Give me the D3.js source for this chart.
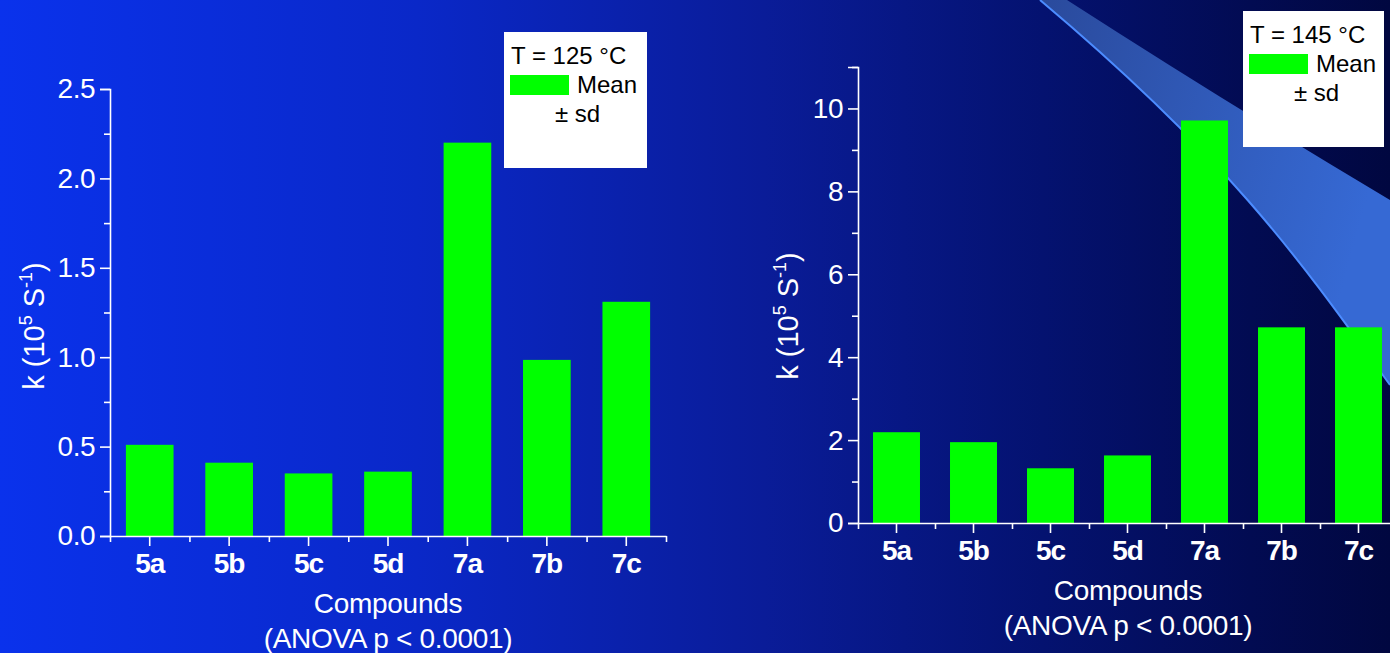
<!DOCTYPE html>
<html><head><meta charset="utf-8">
<script src="https://cdn.jsdelivr.net/npm/d3@7"></script>
<style>
html,body{margin:0;padding:0;overflow:hidden;background:#061a9a;}
svg{display:block;font-family:"Liberation Sans",Arial,sans-serif;}
</style></head>
<body>
<svg id="c" width="1390" height="653"></svg>
<script>
// ---- data ----
const categories = ["5a","5b","5c","5d","7a","7b","7c"];
const k125 = [0.51, 0.41, 0.35, 0.36, 2.20, 0.985, 1.31];
const k145 = [2.19, 1.95, 1.32, 1.63, 9.71, 4.72, 4.72];
const yTicks125 = [0, 0.5, 1.0, 1.5, 2.0, 2.5];
const yMinor125 = [0.25, 0.75, 1.25, 1.75, 2.25];
const yTicks145 = [0, 2, 4, 6, 8, 10];
const yMinor145 = [1, 3, 5, 7, 9, 11];
const legendTitles = ["T = 125 °C", "T = 145 °C"];
const xTitle = ["Compounds", "(ANOVA p < 0.0001)"];

const svg = d3.select("#c");
const W = 1390, H = 653;
const defs = svg.append("defs");
const bg = defs.append("linearGradient").attr("id","bg").attr("x1","0").attr("x2","1").attr("y1","0").attr("y2","0");
[[0,"#0a32ec"],[0.3,"#0a28c8"],[0.55,"#0a1c98"],[0.75,"#041270"],[0.9,"#020b52"],[1,"#010740"]]
  .forEach(([o,c])=>bg.append("stop").attr("offset",o).attr("stop-color",c));
svg.append("rect").attr("width",W).attr("height",H).attr("fill","url(#bg)");

// decorative swoosh
const sw = defs.append("linearGradient").attr("id","sw").attr("x1","0").attr("x2","1").attr("y1","0").attr("y2","0.3");
sw.append("stop").attr("offset",0).attr("stop-color","#2a4a9c");
sw.append("stop").attr("offset",1).attr("stop-color","#3669d4");
svg.append("path").attr("d","M1040,0 L1067,0 Q1230,105 1390,200 L1390,385 C1300,260 1230,160 1040,0 Z").attr("fill","url(#sw)");
svg.append("path").attr("d","M1390,385 C1300,260 1230,160 1040,0").attr("fill","none").attr("stroke","#4c8cff").attr("stroke-width",2);

function drawChart(cfg){
  const g = svg.append("g");
  const x = d3.scaleBand().domain(categories).range([cfg.x0, cfg.x1]).paddingInner(cfg.pad).paddingOuter(cfg.pad/2);
  const xb = d3.scaleLinear().domain([0, categories.length]).range([cfg.x0, cfg.x1]);
  const y = d3.scaleLinear().domain(cfg.domain).range([cfg.y0, cfg.yTop]);

  // bars
  g.selectAll("rect.bar").data(cfg.values).join("rect")
    .attr("x",(d,i)=>x(categories[i])).attr("width",x.bandwidth())
    .attr("y",d=>y(d)).attr("height",d=>cfg.y0-y(d)).attr("fill","#00ff00");

  // y axis
  const ya = g.append("g").attr("transform",`translate(${cfg.x0},0)`)
    .call(d3.axisLeft(y).tickValues(cfg.yTicks).tickFormat(cfg.fmt).tickSize(10).tickPadding(5));
  g.append("g").attr("transform",`translate(${cfg.x0},0)`)
    .call(d3.axisLeft(y).tickValues(cfg.yMinor).tickFormat("").tickSize(6))
    .select(".domain").remove();
  // x axis
  const xa = g.append("g").attr("transform",`translate(0,${cfg.y0})`)
    .call(d3.axisBottom(x).tickSize(10).tickPadding(7).tickSizeOuter(0));
  g.append("g").attr("transform",`translate(0,${cfg.y0})`)
    .call(d3.axisBottom(xb).tickValues(d3.range(categories.length+1)).tickFormat("").tickSize(6))
    .select(".domain").remove();

  g.selectAll(".domain").attr("stroke","#fff").attr("stroke-width",1.6);
  g.selectAll(".tick line").attr("stroke","#fff").attr("stroke-width",1.6);
  ya.selectAll("text").attr("fill","#fff").attr("font-size",28).attr("letter-spacing",-0.5).attr("font-family","Liberation Sans, Arial");
  xa.selectAll("text").attr("fill","#fff").attr("font-size",28).attr("font-weight","bold").attr("letter-spacing",-1).attr("font-family","Liberation Sans, Arial");

  // y title
  const yt = g.append("text").attr("transform",`translate(${cfg.ytx},${cfg.yty}) rotate(-90)`)
    .attr("text-anchor","middle").attr("fill","#fff").attr("font-size",29);
  yt.append("tspan").text("k (10");
  yt.append("tspan").attr("dy",-12).attr("font-size",18).text("5");
  yt.append("tspan").attr("dy",12).text(" S");
  yt.append("tspan").attr("dy",-12).attr("font-size",18).text("-1");
  yt.append("tspan").attr("dy",12).text(")");

  // x title
  const cx = cfg.titleX;
  xTitle.forEach((t,i)=>g.append("text").attr("x",cx).attr("y",cfg.y0+77+i*35)
    .attr("text-anchor","middle").attr("fill","#fff").attr("font-size",28).attr("letter-spacing",-0.3).text(t));

  // legend
  const L = cfg.leg;
  g.append("rect").attr("x",L.x).attr("y",L.y).attr("width",L.w).attr("height",L.h).attr("fill","#fff");
  g.append("text").attr("x",L.x+7).attr("y",L.y+32).attr("font-size",24).attr("fill","#000").text(cfg.legTitle);
  g.append("rect").attr("x",L.x+6).attr("y",L.y+43).attr("width",59).attr("height",20).attr("fill","#00ff00");
  g.append("text").attr("x",L.x+73).attr("y",L.y+61).attr("font-size",24).attr("fill","#000").text("Mean");
  g.append("text").attr("x",L.x+51).attr("y",L.y+90).attr("font-size",24).attr("fill","#000").text("± sd");
}

drawChart({values:k125, x0:110, x1:666, pad:0.4, domain:[0,2.5], y0:536, yTop:89,
  yTicks:yTicks125, yMinor:yMinor125, fmt:d3.format(".1f"), ytx:44, yty:326, titleX:388,
  legTitle:legendTitles[0], leg:{x:504,y:32,w:143,h:136}});
drawChart({values:k145, x0:858, x1:1397, pad:0.39, domain:[0,11], y0:523, yTop:67,
  yTicks:yTicks145, yMinor:yMinor145, fmt:d3.format("d"), ytx:798, yty:316, titleX:1128,
  legTitle:legendTitles[1], leg:{x:1243,y:11,w:141,h:136}});
</script>
</body></html>
